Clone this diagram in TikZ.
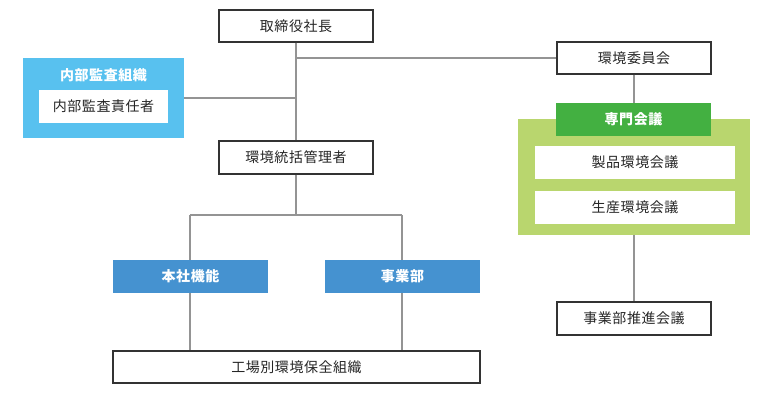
\documentclass[tikz,border=0pt]{standalone}
\usepackage{fontspec}
\setmainfont[LetterSpace=4]{Noto Sans CJK JP}
\begin{document}
\begin{tikzpicture}[x=0.75pt,y=-0.75pt,
  font=\fontsize{10.5pt}{12pt}\selectfont,
  wbox/.style={draw=black!80,line width=0.9pt,fill=white,inner sep=0pt,text=black!85},
  inbox/.style={fill=white,draw=none,inner sep=0pt,text=black!85},
  fbox/.style={draw=none,inner sep=0pt,text=white,font=\fontsize{10.5pt}{12pt}\selectfont\bfseries},
  conn/.style={draw=black!42,line width=1.1pt}]
\useasboundingbox (0,0) rectangle (776,400);
% top
\node[wbox,minimum width=154*0.75pt,minimum height=32*0.75pt] (ceo) at (296,26) {取締役社長};
\node[wbox,minimum width=154*0.75pt,minimum height=32*0.75pt] (env) at (634,58) {環境委員会};
% audit
\node[fbox,minimum width=161*0.75pt,minimum height=80*0.75pt,fill={rgb,255:red,88;green,193;blue,239}] (audit) at (103.5,98) {};
\node[fbox] (auditt) at (103.5,75) {内部監査組織};
\node[inbox,minimum width=129*0.75pt,minimum height=33*0.75pt] (auditor) at (103.5,106.5) {内部監査責任者};
% manager
\node[wbox,minimum width=154*0.75pt,minimum height=33*0.75pt] (mgr) at (296,157.5) {環境統括管理者};
% blue boxes
\node[fbox,fill={rgb,255:red,69;green,146;blue,208},minimum width=155*0.75pt,minimum height=33*0.75pt] (hq) at (190.5,276.5) {本社機能};
\node[fbox,fill={rgb,255:red,69;green,146;blue,208},minimum width=155*0.75pt,minimum height=33*0.75pt] (biz) at (402.5,276.5) {事業部};
\node[wbox,minimum width=367*0.75pt,minimum height=32*0.75pt] (plant) at (296.5,367) {工場別環境保全組織};
% green group
\node[fbox,fill={rgb,255:red,185;green,214;blue,110},minimum width=232*0.75pt,minimum height=116*0.75pt] (grp) at (634,177) {};
\node[fbox,fill={rgb,255:red,67;green,176;blue,65},minimum width=155*0.75pt,minimum height=33*0.75pt] (spec) at (633.5,119.5) {専門会議};
\node[inbox,minimum width=200*0.75pt,minimum height=33*0.75pt] (prod) at (635,162.5) {製品環境会議};
\node[inbox,minimum width=200*0.75pt,minimum height=33*0.75pt] (mfg) at (635,207.5) {生産環境会議};
\node[wbox,minimum width=154*0.75pt,minimum height=33*0.75pt] (promo) at (634,318.5) {事業部推進会議};
% connectors
\coordinate (j1) at (296,58);
\coordinate (j2) at (296,98);
\coordinate (j3) at (296,215);
\coordinate (jl) at (190,215);
\coordinate (jr) at (402,215);
\draw[conn] (ceo.south) -- (mgr.north);
\draw[conn] (j1) -- (env.west);
\draw[conn] (audit.east) -- (j2);
\draw[conn] (mgr.south) -- (j3);
\draw[conn] (jl) -- (jr);
\draw[conn] (jl) -- (hq.north -| jl);
\draw[conn] (jr) -- (biz.north -| jr);
\draw[conn] (hq.south -| jl) -- (plant.north -| jl);
\draw[conn] (biz.south -| jr) -- (plant.north -| jr);
\draw[conn] (env.south) -- (spec.north -| env.south);
\draw[conn] (grp.south) -- (promo.north);
\end{tikzpicture}
\end{document}
